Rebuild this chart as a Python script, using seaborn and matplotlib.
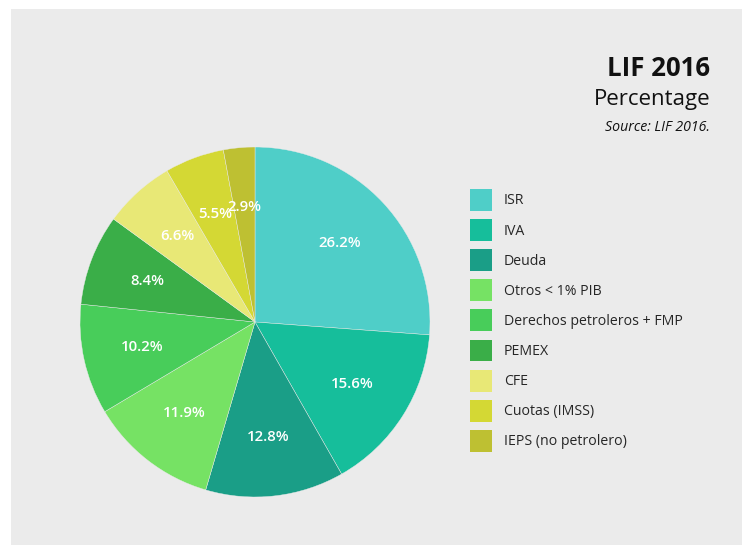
import matplotlib
matplotlib.use("Agg")
import matplotlib.pyplot as plt
import matplotlib.patches as mpatches
import seaborn as sns

# data
categories = ["ISR", "IVA", "Deuda", "Otros < 1% PIB", "Derechos petroleros + FMP",
              "PEMEX", "CFE", "Cuotas (IMSS)", "IEPS (no petrolero)"]
shares = [26.2, 15.6, 12.8, 11.9, 10.2, 8.4, 6.6, 5.5, 2.9]
hex_colors = ["#4FCEC8", "#16BE9B", "#1A9E87", "#76E264", "#48CD5A",
              "#3AAE48", "#E8E876", "#D4D834", "#BEC032"]

sns.set_style("white")
plt.rcParams['font.family'] = ['Open Sans', 'DejaVu Sans']
palette = sns.color_palette(hex_colors)

W, H = 742, 545
fig = plt.figure(figsize=(W / 100, H / 100), dpi=100)
fig.patch.set_facecolor("white")

# gray panel behind everything
fig.patches.append(mpatches.Rectangle((11 / W, 0), 1 - 11 / W, 1 - 9 / H,
                                      transform=fig.transFigure, facecolor="#EBEBEB",
                                      edgecolor="none", zorder=-5))

# pie axes: centre (255, 322) px, radius 175 px
cx, cy, r = 255, 322, 175
ax = fig.add_axes([(cx - r) / W, (H - cy - r) / H, 2 * r / W, 2 * r / H])
ax.set_zorder(2)
ax.patch.set_alpha(0)
wedges, texts, autotexts = ax.pie(
    shares, colors=palette, startangle=90, counterclock=False,
    autopct=lambda p: f"{p:.1f}%", pctdistance=0.66,
    wedgeprops=dict(linewidth=0.3, edgecolor="#EBEBEB"),
    textprops=dict(color="white", fontsize=10.8, fontweight="semibold"))
# percent labels should show the source values, not the renormalised ones
for t, v in zip(autotexts, shares):
    t.set_text(f"{v}%")
ax.set_xlim(-1, 1)
ax.set_ylim(-1, 1)
ax.set_aspect("equal")

# titles
fig.text(710 / W, 1 - 68 / H, "LIF 2016", ha="right", va="center",
         fontsize=18.5, fontweight="bold", color="#111111")
fig.text(710 / W, 1 - 99 / H, "Percentage", ha="right", va="center",
         fontsize=16, color="#111111")
fig.text(710 / W, 1 - 127 / H, "Source: LIF 2016.", ha="right", va="center",
         fontsize=10.2, style="italic", color="#111111")

# legend
handles = [mpatches.Patch(facecolor=c, edgecolor="none", label=l)
           for c, l in zip(palette, categories)]
fig.legend(handles=handles, loc="upper left",
           bbox_to_anchor=(470 / W, 1 - 189 / H), frameon=False,
           fontsize=10.2, handlelength=1.55, handleheight=2.0,
           labelspacing=0.58, handletextpad=0.85, borderpad=0,
           borderaxespad=0)

fig.savefig("out.png", dpi=100)
